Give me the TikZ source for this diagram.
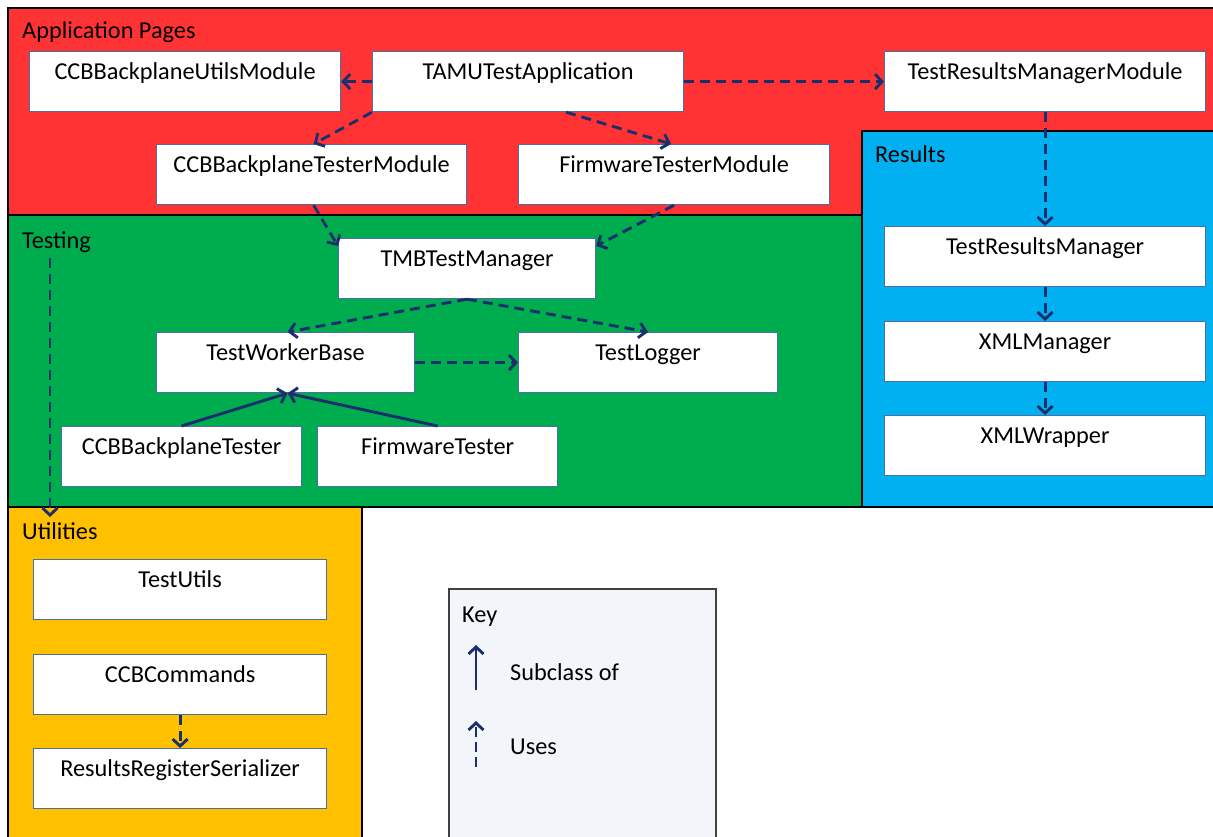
\documentclass[tikz,border=0pt]{standalone}
\usepackage{fontspec}
\setmainfont{Carlito}
\usetikzlibrary{arrows.meta}
\definecolor{apppg}{HTML}{FF3334}
\definecolor{testg}{HTML}{00AD4E}
\definecolor{resb}{HTML}{00B0F0}
\definecolor{utilo}{HTML}{FFC000}
\definecolor{keyf}{HTML}{F2F6FA}
\definecolor{boxln}{HTML}{4A6FA5}
\definecolor{navy}{HTML}{1A2F6B}

\begin{document}
\begin{tikzpicture}[x=1pt,y=-1pt,font=\fontsize{24.3}{28}\selectfont,
  cls/.style={draw=boxln,line width=1.2pt,fill=white,anchor=north west,
    inner sep=0pt,text height=28pt,text depth=32pt,minimum width=#1},
  grp/.style={draw=black,line width=1.4pt},
  lbl/.style={anchor=base west,inner sep=0pt},
  uses/.style={draw=navy,line width=2.9pt,dash pattern=on 10pt off 6pt,
    -{Straight Barb[length=7pt,width=15pt]}},
  sub/.style={draw=navy,line width=2.9pt,
    -{Straight Barb[length=7pt,width=15pt]}}]
\useasboundingbox (0,0) rectangle (1213,837);
% the four coloured areas, and the key
\draw[grp,fill=apppg] (8,8) rectangle (1220,215);
\draw[grp,fill=testg] (8,215) rectangle (862,507);
\draw[grp,fill=resb] (862,131) rectangle (1220,507);
\draw[grp,fill=utilo] (8,507) rectangle (362,845);
\draw[draw=black!75,line width=1.2pt,fill=keyf] (449,589) rectangle (716,845);
\node[lbl] (applbl) at (22,39) {Application Pages};
\node[lbl] (testlbl) at (22,248) {Testing};
\node[lbl] (reslbl) at (875,163) {Results};
\node[lbl] (utillbl) at (22,539) {Utilities};
\node[lbl] (keylbl) at (462,622) {Key};
% Application Pages
\node[cls=311pt] (ccbum) at (29,51) {CCBBackplaneUtilsModule};
\node[cls=311pt] (tamu) at (372,51) {TAMUTestApplication};
\node[cls=321pt] (trmm) at (884,51) {TestResultsManagerModule};
\node[cls=310pt] (ccbtm) at (156,144) {CCBBackplaneTesterModule};
\node[cls=311pt] (fwtm) at (518,144) {FirmwareTesterModule};
% Testing
\node[cls=257pt] (tmb) at (338,238) {TMBTestManager};
\node[cls=258pt] (twb) at (156,332) {TestWorkerBase};
\node[cls=259pt] (tlog) at (518,332) {TestLogger};
\node[cls=240pt] (ccbt) at (61,426) {CCBBackplaneTester};
\node[cls=240pt] (fwt) at (317,426) {FirmwareTester};
% Results
\node[cls=321pt] (trm) at (884,226) {TestResultsManager};
\node[cls=321pt] (xmlm) at (884,321) {XMLManager};
\node[cls=321pt] (xmlw) at (884,415) {XMLWrapper};
% Utilities
\node[cls=293pt] (tutil) at (33,559) {TestUtils};
\node[cls=293pt] (cmds) at (33,654) {CCBCommands};
\node[cls=293pt] (rrs) at (33,748) {ResultsRegisterSerializer};
% uses
\draw[uses] (tamu.west) -- (ccbum.east);
\draw[uses] (tamu.east) -- (trmm.west);
\draw[uses] (tamu.south west) -- ([xshift=2pt]ccbtm.north);
\draw[uses] ([xshift=38pt]tamu.south) -- ([xshift=-3pt]fwtm.north);
\draw[uses] ([xshift=2pt]ccbtm.south) -- ([yshift=-8pt]tmb.north west);
\draw[uses] (fwtm.south) -- ([yshift=-8pt]tmb.north east);
\draw[uses] (tmb.south) -- ([xshift=2pt]twb.north);
\draw[uses] (tmb.south) -- (tlog.north);
\draw[uses] (twb.east) -- (tlog.west);
\draw[uses] (trmm.south) -- (trm.north);
\draw[uses] (trm.south) -- (xmlm.north);
\draw[uses] (xmlm.south) -- (xmlw.north);
\draw[uses] (cmds.south) -- (rrs.north);
\coordinate (tdown) at (50,258);
\coordinate (uup) at (50,517);
\draw[uses] (tdown) -- (uup);
% subclass of
\draw[sub] (ccbt.north) -- ([xshift=2pt]twb.south);
\draw[sub] (fwt.north) -- ([xshift=2pt]twb.south);
% key entries
\coordinate (ks1) at (476,690);
\coordinate (ks2) at (476,645);
\coordinate (ku1) at (476,767);
\coordinate (ku2) at (476,721);
\draw[sub] (ks1) -- (ks2);
\draw[uses,dash pattern=on 10pt off 5pt] (ku1) -- (ku2);
\node[lbl] (subtxt) at (510,680) {Subclass of};
\node[lbl] (usetxt) at (510,754) {Uses};
\end{tikzpicture}
\end{document}
